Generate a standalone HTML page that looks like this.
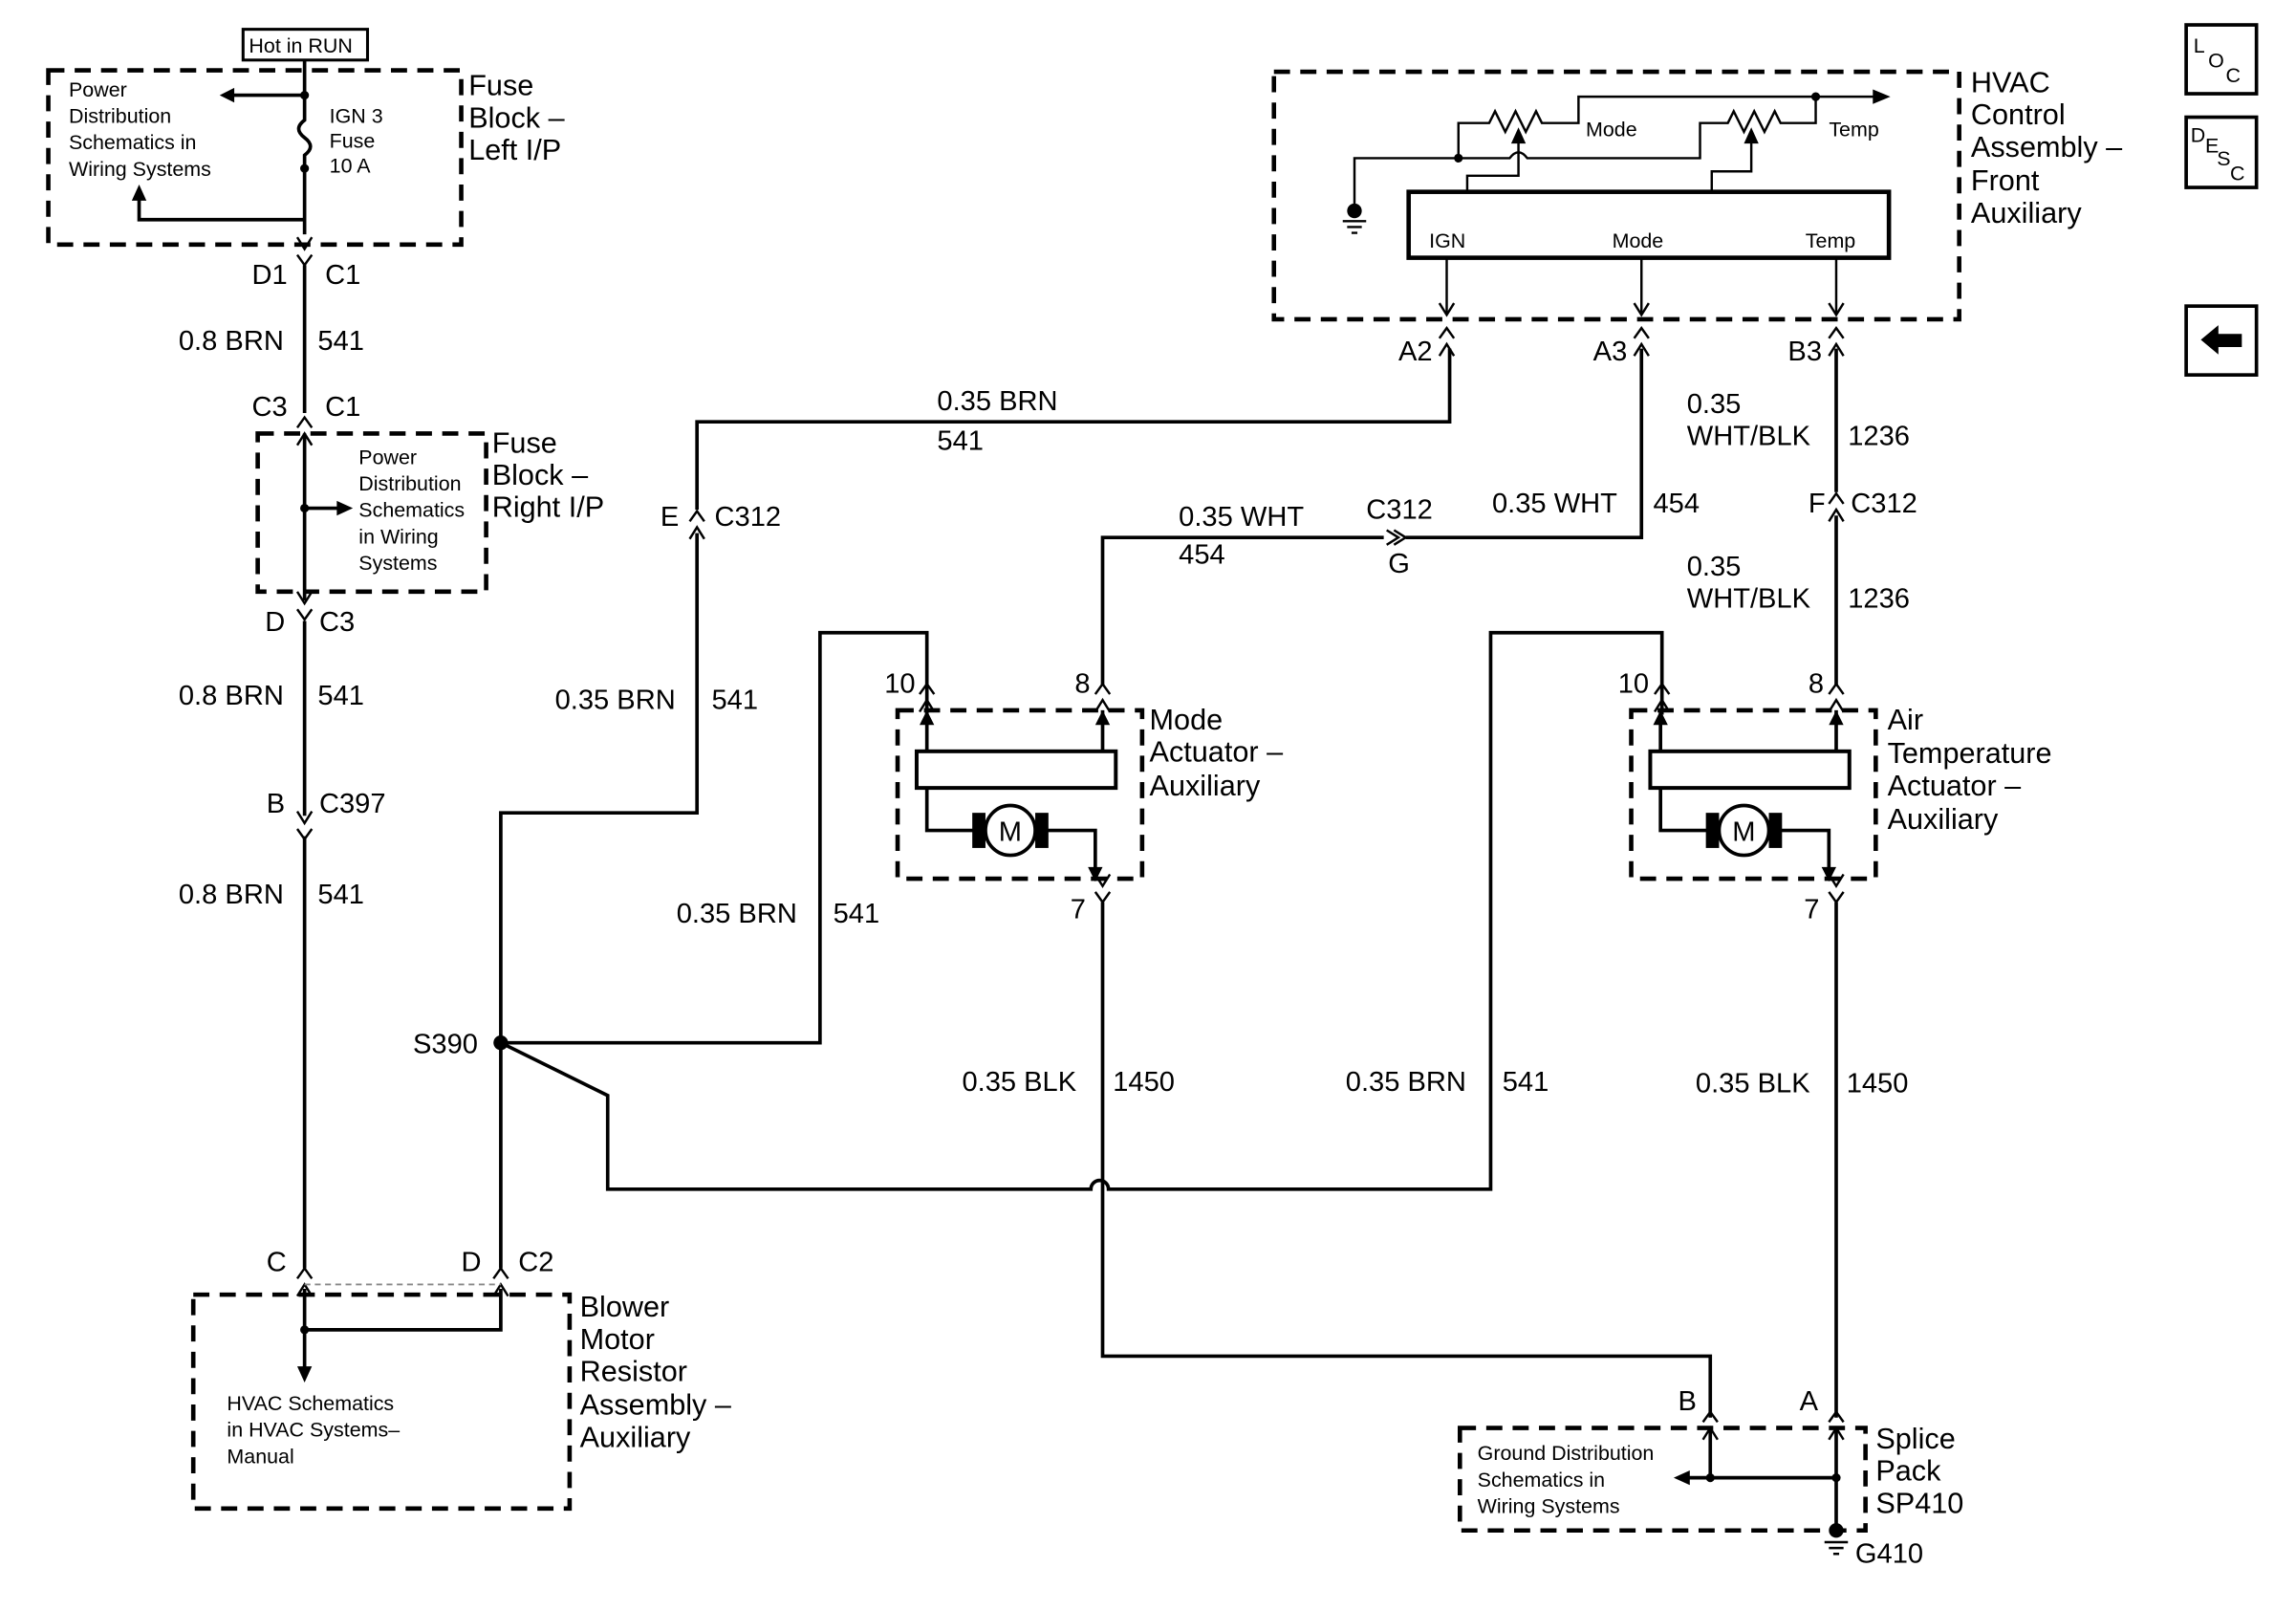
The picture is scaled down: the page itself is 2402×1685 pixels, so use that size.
<!DOCTYPE html>
<html><head><style>
html,body{margin:0;padding:0;background:#fff;}
svg{display:block;}
text{font-family:"Liberation Sans",Arial,sans-serif;fill:#000;}
.w{fill:none;stroke:#000;stroke-width:2.4;}
.t{fill:none;stroke:#000;stroke-width:1.6;}
.d{fill:none;stroke:#000;stroke-width:3;stroke-dasharray:11,7;}
.l{font-size:19px;}
.s{font-size:14px;}
.b{font-size:20px;}
</style></head><body>
<svg width="2402" height="1685" viewBox="0 0 1568 1100" preserveAspectRatio="none" xmlns="http://www.w3.org/2000/svg">
<defs>
<g id="cv"><path d="M-5,-8 L0,0 L5,-8 M-5,4 L0,11 L5,4" class="t"/></g>
<g id="cu"><path d="M-5,8 L0,0 L5,8 M-5,-4 L0,-11 L5,-4" class="t"/></g>
</defs>

<rect x="166" y="20" width="85" height="21" fill="none" stroke="#000" stroke-width="2"/>
<text x="170" y="36" class="s">Hot in RUN</text>
<rect x="33" y="48" width="282" height="119" class="d"/>
<text x="47" y="66" class="s">Power</text><text x="47" y="84" class="s">Distribution</text>
<text x="47" y="102" class="s">Schematics in</text><text x="47" y="120" class="s">Wiring Systems</text>
<text x="225" y="84" class="s">IGN 3</text><text x="225" y="101" class="s">Fuse</text><text x="225" y="118" class="s">10 A</text>
<path d="M208,41 V82 Q200,88 208,94 Q216,100 208,106 V160" class="w"/>
<circle cx="208" cy="65" r="3"/><circle cx="208" cy="115" r="3"/>
<path d="M208,65 H158" class="w"/><path d="M150,65 L160,60 L160,70 Z"/>
<path d="M208,150 H95 V135" class="w"/><path d="M95,126 L90,137 L100,137 Z"/>
<use href="#cv" x="208" y="170"/>
<text x="320" y="65" class="b">Fuse</text><text x="320" y="87" class="b">Block –</text><text x="320" y="109" class="b">Left I/P</text>
<text x="172" y="194" class="l">D1</text><text x="222" y="194" class="l">C1</text>

<path d="M208,181 V282 M208,296 V410 M208,424 V557 M208,571 V866 M208,880 V935" class="w"/>
<path d="M208,944 L203,933 L213,933 Z"/>
<text x="122" y="239" class="l">0.8 BRN</text><text x="217" y="239" class="l">541</text>
<text x="172" y="284" class="l">C3</text><text x="222" y="284" class="l">C1</text>
<use href="#cu" x="208" y="296"/>
<rect x="176" y="296" width="156" height="108" class="d"/>
<path d="M208,347 H232" class="w"/><path d="M241,347 L230,342 L230,352 Z"/><circle cx="208" cy="347" r="3"/>
<text x="245" y="317" class="s">Power</text><text x="245" y="335" class="s">Distribution</text>
<text x="245" y="353" class="s">Schematics</text><text x="245" y="371" class="s">in Wiring</text><text x="245" y="389" class="s">Systems</text>
<text x="336" y="309" class="b">Fuse</text><text x="336" y="331" class="b">Block –</text><text x="336" y="353" class="b">Right I/P</text>
<use href="#cv" x="208" y="412"/>
<text x="181" y="431" class="l">D</text><text x="218" y="431" class="l">C3</text>
<text x="122" y="481" class="l">0.8 BRN</text><text x="217" y="481" class="l">541</text>
<text x="182" y="555" class="l">B</text><text x="218" y="555" class="l">C397</text>
<use href="#cv" x="208" y="562"/>
<text x="122" y="617" class="l">0.8 BRN</text><text x="217" y="617" class="l">541</text>

<text x="182" y="868" class="l">C</text><text x="315" y="868" class="l">D</text><text x="354" y="868" class="l">C2</text>
<use href="#cu" x="208" y="877"/><use href="#cu" x="342" y="877"/>
<path d="M208,877 H342" stroke="#888" stroke-width="1.2" stroke-dasharray="4,3" fill="none"/>
<rect x="132" y="884" width="257" height="146" class="d"/>
<path d="M208,908 H342 V880" class="w"/><circle cx="208" cy="908" r="3"/>
<text x="155" y="963" class="s">HVAC Schematics</text><text x="155" y="981" class="s">in HVAC Systems–</text><text x="155" y="999" class="s">Manual</text>
<text x="396" y="899" class="b">Blower</text><text x="396" y="921" class="b">Motor</text><text x="396" y="943" class="b">Resistor</text>
<text x="396" y="966" class="b">Assembly –</text><text x="396" y="988" class="b">Auxiliary</text>

<path d="M342,866 V555 H476 V364 M476,348 V288 H990 V238" class="w"/>
<use href="#cu" x="476" y="360"/>
<text x="451" y="359" class="l">E</text><text x="488" y="359" class="l">C312</text>
<text x="640" y="280" class="l">0.35 BRN</text><text x="640" y="307" class="l">541</text>
<text x="379" y="484" class="l">0.35 BRN</text><text x="486" y="484" class="l">541</text>
<circle cx="342" cy="712" r="5"/>
<text x="282" y="719" class="l">S390</text>
<path d="M342,712 H560 V432 H633 V488" class="w"/>
<text x="462" y="630" class="l">0.35 BRN</text><text x="569" y="630" class="l">541</text>
<path d="M342,712 L415,748 V812 H745 A5,5 0 0 1 757,812 H1018 V432 H1135 V488" class="w"/>
<text x="919" y="745" class="l">0.35 BRN</text><text x="1026" y="745" class="l">541</text>

<rect x="613" y="485" width="167" height="115" class="d"/>
<rect x="626" y="513" width="136" height="25" fill="none" stroke="#000" stroke-width="2.6"/>
<path d="M633,485 V513 M753,485 V513" class="w"/>
<path d="M633,485 L628,495 L638,495 Z M753,485 L748,495 L758,495 Z"/>
<path d="M633,538 V567 H665 M715,567 H748 V597" class="w"/>
<path d="M748,602 L743,592 L753,592 Z"/>
<rect x="664" y="555" width="9" height="24"/><rect x="707" y="555" width="9" height="24"/>
<circle cx="690" cy="567" r="17" fill="#fff" stroke="#000" stroke-width="2.4"/>
<text x="682" y="574" class="l">M</text>
<text x="604" y="473" class="l">10</text><text x="734" y="473" class="l">8</text>
<use href="#cu" x="633" y="478"/><use href="#cu" x="753" y="478"/>
<text x="785" y="498" class="b">Mode</text><text x="785" y="520" class="b">Actuator –</text><text x="785" y="543" class="b">Auxiliary</text>
<use href="#cv" x="753" y="605"/>
<text x="731" y="627" class="l">7</text>
<path d="M753,616 V926 H1168 V968" class="w"/>
<text x="657" y="745" class="l">0.35 BLK</text><text x="760" y="745" class="l">1450</text>

<path d="M753,468 V367 H945 M960,367 H1121 V238" class="w"/>
<path d="M947,362 L955,367 L947,372 M952,362 L960,367 L952,372" class="t"/>
<text x="805" y="359" class="l">0.35 WHT</text><text x="805" y="385" class="l">454</text>
<text x="933" y="354" class="l">C312</text><text x="948" y="391" class="l">G</text>
<text x="1019" y="350" class="l">0.35 WHT</text><text x="1129" y="350" class="l">454</text>

<rect x="1114" y="485" width="167" height="115" class="d"/>
<rect x="1127" y="513" width="136" height="25" fill="none" stroke="#000" stroke-width="2.6"/>
<path d="M1134,485 V513 M1254,485 V513" class="w"/>
<path d="M1134,485 L1129,495 L1139,495 Z M1254,485 L1249,495 L1259,495 Z"/>
<path d="M1134,538 V567 H1166 M1216,567 H1249 V597" class="w"/>
<path d="M1249,602 L1244,592 L1254,592 Z"/>
<rect x="1165" y="555" width="9" height="24"/><rect x="1208" y="555" width="9" height="24"/>
<circle cx="1191" cy="567" r="17" fill="#fff" stroke="#000" stroke-width="2.4"/>
<text x="1183" y="574" class="l">M</text>
<text x="1105" y="473" class="l">10</text><text x="1235" y="473" class="l">8</text>
<use href="#cu" x="1135" y="478"/><use href="#cu" x="1254" y="478"/>
<text x="1289" y="498" class="b">Air</text><text x="1289" y="521" class="b">Temperature</text><text x="1289" y="543" class="b">Actuator –</text><text x="1289" y="566" class="b">Auxiliary</text>
<use href="#cv" x="1254" y="605"/>
<text x="1232" y="627" class="l">7</text>
<path d="M1254,616 V968" class="w"/>
<text x="1158" y="746" class="l">0.35 BLK</text><text x="1261" y="746" class="l">1450</text>
<path d="M1254,468 V352 M1254,336 V238" class="w"/>
<use href="#cu" x="1254" y="348"/>
<text x="1235" y="350" class="l">F</text><text x="1264" y="350" class="l">C312</text>
<text x="1152" y="282" class="l">0.35</text><text x="1152" y="304" class="l">WHT/BLK</text><text x="1262" y="304" class="l">1236</text>
<text x="1152" y="393" class="l">0.35</text><text x="1152" y="415" class="l">WHT/BLK</text><text x="1262" y="415" class="l">1236</text>

<text x="1146" y="963" class="l">B</text><text x="1229" y="963" class="l">A</text>
<use href="#cu" x="1168" y="975"/><use href="#cu" x="1254" y="975"/>
<rect x="997" y="975" width="277" height="70" class="d"/>
<path d="M1168,975 V1009 M1254,975 V1045 M1152,1009 H1254" class="w"/>
<path d="M1143,1009 L1154,1004 L1154,1014 Z"/>
<circle cx="1168" cy="1009" r="3"/><circle cx="1254" cy="1009" r="3"/>
<circle cx="1254" cy="1045" r="5"/>
<path d="M1246,1053 H1262 M1249,1057 H1259 M1252,1061 H1256" class="t"/>
<text x="1009" y="997" class="s">Ground Distribution</text><text x="1009" y="1015" class="s">Schematics in</text><text x="1009" y="1033" class="s">Wiring Systems</text>
<text x="1281" y="989" class="b">Splice</text><text x="1281" y="1011" class="b">Pack</text><text x="1281" y="1033" class="b">SP410</text>
<text x="1267" y="1067" class="l">G410</text>

<rect x="870" y="49" width="468" height="169" class="d"/>
<rect x="962" y="131" width="328" height="45" fill="none" stroke="#000" stroke-width="3"/>
<text x="976" y="169" class="s">IGN</text><text x="1101" y="169" class="s">Mode</text><text x="1233" y="169" class="s">Temp</text>
<path d="M988,176 V214 M1121,176 V214 M1254,176 V214" class="t"/>
<path d="M983,207 L988,215 L993,207 M1116,207 L1121,215 L1126,207 M1249,207 L1254,215 L1259,207" class="t"/>
<use href="#cu" x="988" y="235"/><use href="#cu" x="1121" y="235"/><use href="#cu" x="1254" y="235"/>
<text x="955" y="246" class="l">A2</text><text x="1088" y="246" class="l">A3</text><text x="1221" y="246" class="l">B3</text>
<path d="M925,142 V108 H1031 Q1037,100 1043,108 H1161 V84 H1180 L1184,76 L1191,90 L1198,76 L1205,90 L1212,76 L1216,84 H1240 V66" class="t" stroke-width="2"/>
<path d="M996,108 V84 H1017 L1021,76 L1028,90 L1035,76 L1042,90 L1049,76 L1053,84 H1078 V66 H1283" class="t" stroke-width="2"/>
<circle cx="996" cy="108" r="3"/><circle cx="1240" cy="66" r="3"/>
<path d="M1291,66 L1279,61 L1279,71 Z"/>
<path d="M1002,131 V120 H1037 V96 M1169,131 V117 H1196 V96" class="t" stroke-width="2"/>
<path d="M1037,87 L1032,98 L1042,98 Z M1196,87 L1191,98 L1201,98 Z"/>
<circle cx="925" cy="144" r="5"/>
<path d="M917,151 H933 M920,155 H930 M923,159 H927" class="t"/>
<text x="1083" y="93" class="s">Mode</text><text x="1249" y="93" class="s">Temp</text>
<text x="1346" y="63" class="b">HVAC</text><text x="1346" y="85" class="b">Control</text><text x="1346" y="107" class="b">Assembly –</text>
<text x="1346" y="130" class="b">Front</text><text x="1346" y="152" class="b">Auxiliary</text>

<rect x="1493" y="17" width="48" height="47" fill="none" stroke="#000" stroke-width="2.4"/>
<text x="1498" y="36" class="s">L</text><text x="1508" y="46" class="s">O</text><text x="1520" y="56" class="s">C</text>
<rect x="1493" y="80" width="48" height="48" fill="none" stroke="#000" stroke-width="2.4"/>
<text x="1496" y="97" class="s">D</text><text x="1506" y="104" class="s">E</text><text x="1514" y="113" class="s">S</text><text x="1523" y="123" class="s">C</text>
<rect x="1493" y="209" width="48" height="47" fill="none" stroke="#000" stroke-width="2.4"/>
<path d="M1503,232 L1515,222 L1515,228 L1531,228 L1531,237 L1515,237 L1515,242 Z"/>
</svg>
</body></html>
